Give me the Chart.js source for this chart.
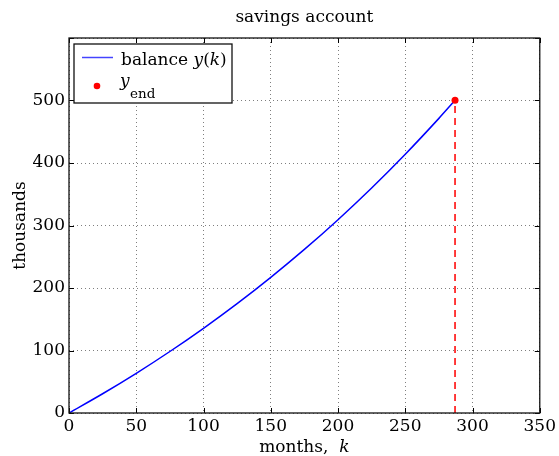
<!DOCTYPE html>
<html>
<head>
<meta charset="utf-8">
<script src="https://cdn.jsdelivr.net/npm/chart.js@4"></script>
<style>
  html, body { margin: 0; padding: 0; background: #fff; }
  #wrap { width: 559px; height: 456px; position: relative; }
</style>
</head>
<body>
<div id="wrap"><canvas id="c" width="559" height="456"></canvas></div>
<script>
// Savings account balance, in thousands, sampled by month
const months  = [0, 25, 50, 75, 100, 125, 150, 175, 200, 225, 250, 275, 287];
const balance = [0, 30.8, 63.5, 98.4, 135.5, 174.9, 217.0, 261.7, 309.3, 360.0, 414.0, 471.4, 500.3];

// Final month and final balance
const kEnd = 287;
const yEnd = 500.3;

// Axis tick values
const xTicks = [0, 50, 100, 150, 200, 250, 300, 350];
const yTicks = [0, 100, 200, 300, 400, 500, 600];
const yTickLabels = ['0', '100', '200', '300', '400', '500', ''];

const SERIF = '"DejaVu Serif", serif';
const FS = 17;

const curve = months.map((k, i) => ({ x: k, y: balance[i] }));

// Frame, inward ticks, titles and legend
const decor = {
  id: 'decor',
  afterDraw(chart) {
    const { ctx, chartArea: a, scales: { x, y } } = chart;
    ctx.save();
    // inward tick marks on all four sides
    ctx.strokeStyle = '#000';
    ctx.lineWidth = 1;
    ctx.beginPath();
    const L = 5;
    xTicks.forEach(v => {
      const px = Math.round(x.getPixelForValue(v)) + 0.5;
      ctx.moveTo(px, a.bottom); ctx.lineTo(px, a.bottom - L);
      ctx.moveTo(px, a.top); ctx.lineTo(px, a.top + L);
    });
    yTicks.forEach(v => {
      const py = Math.round(y.getPixelForValue(v)) + 0.5;
      ctx.moveTo(a.left, py); ctx.lineTo(a.left + L, py);
      ctx.moveTo(a.right, py); ctx.lineTo(a.right - L, py);
    });
    ctx.stroke();
    // axes frame
    ctx.lineWidth = 1.3;
    ctx.strokeStyle = '#111';
    ctx.strokeRect(a.left, a.top, a.right - a.left, a.bottom - a.top);

    ctx.fillStyle = '#000';
    ctx.textBaseline = 'alphabetic';
    // chart title
    ctx.font = FS + 'px ' + SERIF;
    ctx.textAlign = 'center';
    ctx.fillText('savings account', (a.left + a.right) / 2, 22);

    // x axis title: "months, k"
    ctx.textAlign = 'left';
    const t1 = 'months,  ';
    ctx.font = FS + 'px ' + SERIF;
    const w1 = ctx.measureText(t1).width;
    ctx.font = 'italic ' + FS + 'px ' + SERIF;
    const w2 = ctx.measureText('k').width;
    let sx = (a.left + a.right) / 2 - (w1 + w2) / 2;
    ctx.font = FS + 'px ' + SERIF;
    ctx.fillText(t1, sx, 452);
    ctx.font = 'italic ' + FS + 'px ' + SERIF;
    ctx.fillText('k', sx + w1, 452);

    // y axis title
    ctx.save();
    ctx.translate(25, (a.top + a.bottom) / 2);
    ctx.rotate(-Math.PI / 2);
    ctx.textAlign = 'center';
    ctx.font = FS + 'px ' + SERIF;
    ctx.fillText('thousands', 0, 0);
    ctx.restore();

    // legend box
    ctx.fillStyle = '#fff';
    ctx.fillRect(74, 44, 158, 59);
    ctx.lineWidth = 1.3;
    ctx.strokeStyle = '#111';
    ctx.strokeRect(74, 44, 158, 59);
    // line sample
    ctx.strokeStyle = '#4444ff';
    ctx.lineWidth = 1.5;
    ctx.beginPath(); ctx.moveTo(82, 57.5); ctx.lineTo(113, 57.5); ctx.stroke();
    // label: balance y(k)
    ctx.fillStyle = '#000';
    let tx = 121;
    const parts = [['balance ', ''], ['y', 'italic '], ['(', ''], ['k', 'italic '], [')', '']];
    parts.forEach(([s, st]) => {
      ctx.font = st + FS + 'px ' + SERIF;
      ctx.fillText(s, tx, 65);
      tx += ctx.measureText(s).width;
    });
    // point sample
    ctx.fillStyle = '#ff0000';
    ctx.beginPath(); ctx.arc(97, 86, 3.3, 0, Math.PI * 2); ctx.fill();
    // label: y_end
    ctx.fillStyle = '#000';
    ctx.font = 'italic ' + FS + 'px ' + SERIF;
    ctx.fillText('y', 120, 86);
    ctx.font = '13.5px ' + SERIF;
    ctx.fillText('end', 130, 98);
    ctx.restore();
  }
};

new Chart(document.getElementById('c'), {
  type: 'scatter',
  data: {
    datasets: [
      {
        label: 'end marker',
        data: [{ x: kEnd, y: 0 }, { x: kEnd, y: yEnd }],
        showLine: true,
        borderColor: '#ff1a1a',
        borderWidth: 1.7,
        borderDash: [7, 5],
        pointRadius: 0,
        order: 3
      },
      {
        label: 'balance y(k)',
        data: curve,
        showLine: true,
        borderColor: '#0000ff',
        borderWidth: 1.5,
        cubicInterpolationMode: 'monotone',
        pointRadius: 0,
        order: 2
      },
      {
        label: 'y_end',
        data: [{ x: kEnd, y: yEnd }],
        pointRadius: 3.5,
        pointBackgroundColor: '#ff0000',
        pointBorderWidth: 0,
        order: 1
      }
    ]
  },
  options: {
    responsive: false,
    animation: false,
    events: [],
    layout: { padding: { left: 0, right: 18, top: 38, bottom: 0 } },
    plugins: { legend: { display: false }, tooltip: { enabled: false }, title: { display: false } },
    scales: {
      x: {
        type: 'linear',
        min: 0, max: 350,
        afterFit(s) { s.height = 43; },
        afterBuildTicks(s) { s.ticks = xTicks.map(v => ({ value: v })); },
        ticks: {
          color: '#000',
          padding: 3,
          font: { family: SERIF, size: FS },
          callback: v => String(v)
        },
        grid: {
          drawTicks: false,
          color: 'rgba(0,0,0,0.5)',
          lineWidth: 1
        },
        border: { display: false, dash: [1, 3] }
      },
      y: {
        type: 'linear',
        min: 0, max: 600,
        afterFit(s) { s.width = 69; },
        afterBuildTicks(s) { s.ticks = yTicks.map(v => ({ value: v })); },
        ticks: {
          color: '#000',
          padding: 4,
          font: { family: SERIF, size: FS },
          callback: v => yTickLabels[yTicks.indexOf(v)]
        },
        grid: {
          drawTicks: false,
          color: 'rgba(0,0,0,0.5)',
          lineWidth: 1
        },
        border: { display: false, dash: [1, 3] }
      }
    }
  },
  plugins: [decor]
});
</script>
</body>
</html>
